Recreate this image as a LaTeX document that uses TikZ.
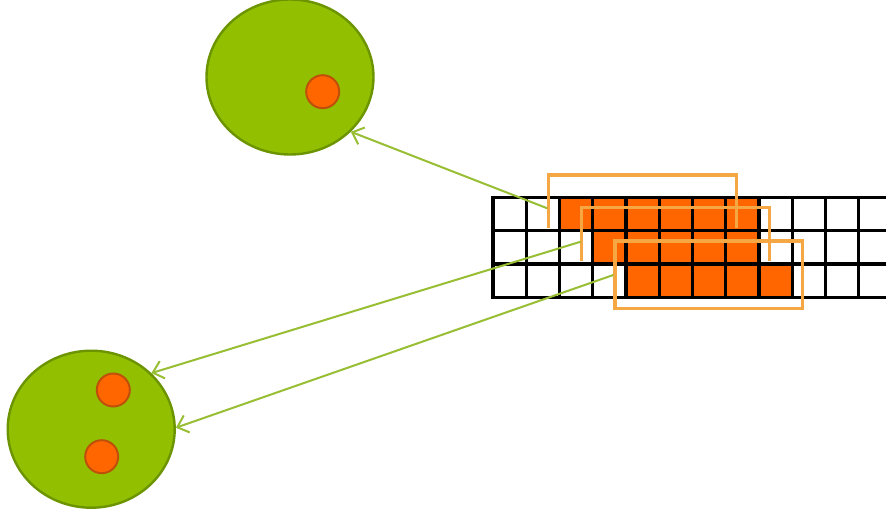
\documentclass[tikz,border=0pt]{standalone}
\usetikzlibrary{shapes.geometric,arrows.meta}
\definecolor{limefill}{RGB}{146,192,0}
\definecolor{limeedge}{RGB}{108,148,0}
\definecolor{dotfill}{RGB}{255,102,0}
\definecolor{dotedge}{RGB}{190,80,10}
\definecolor{cellfill}{RGB}{255,102,0}
\definecolor{framecol}{RGB}{244,167,66}
\definecolor{linkcol}{RGB}{152,190,52}
\tikzset{
  blob/.style={ellipse, draw=limeedge, fill=limefill, line width=2.4pt, inner sep=0pt},
  seed/.style={circle, draw=dotedge, fill=dotfill, line width=2pt, minimum size=33pt, inner sep=0pt},
  gridline/.style={black, line width=3.4pt},
  window/.style={framecol, line width=3.4pt},
  link/.style={linkcol, line width=2pt, -{Straight Barb[length=10pt, width=18pt, line width=2pt]}}
}
\begin{document}
\begin{tikzpicture}[x=1pt, y=-1pt]
\useasboundingbox[fill=white] (0,0) rectangle (886,511);

% clusters
\node[blob, minimum width=167pt, minimum height=155pt] (top) at (290,77) {};
\node[seed] (topseed) at (322.7,91.7) {};
\node[blob, minimum width=167pt, minimum height=157pt] (bottom) at (91.2,429.2) {};
\node[seed] (bottomseedA) at (113.3,390) {};
\node[seed] (bottomseedB) at (101.7,456.7) {};

% filled cells of the strip
\def\cw{33.25}
\def\rh{33.33}
\fill[cellfill] (559.5,197.3) rectangle (759,230.63);
\fill[cellfill] (592.75,230.63) rectangle (759,263.96);
\fill[cellfill] (626,263.96) rectangle (792.25,297.3);

% cell grid
\foreach \j in {0,...,3}
  \draw[gridline, line cap=rect] (493,197.3+\j*\rh) -- (890,197.3+\j*\rh);
\foreach \i in {0,...,11}
  \draw[gridline] (493+\i*\cw,197.3) -- (493+\i*\cw,297.3);

% sliding windows
\draw[window] (548.3,227.7) -- (548.3,175) -- (736.7,175) -- (736.7,227.7);
\draw[window] (581.7,261) -- (581.7,207.7) -- (769.3,207.7) -- (769.3,261);
\draw[window] (615,241) rectangle (802.7,308.3);

% window anchors
\coordinate (w1) at (547.3,208.3);
\coordinate (w2) at (580.7,241.7);
\coordinate (w3) at (613.3,275);

% assignments
\draw[link] (w1) -- (top.-42.7);
\draw[link] (w2) -- (bottom.43.3);
\draw[link] (w3) -- (bottom.1);
\end{tikzpicture}
\end{document}
